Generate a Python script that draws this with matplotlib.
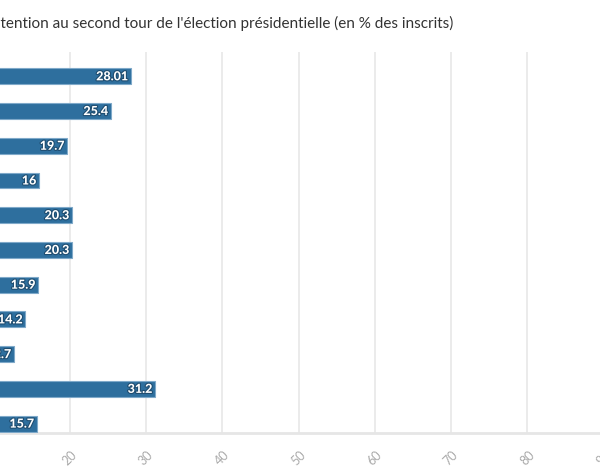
import matplotlib
matplotlib.use("Agg")
import matplotlib.pyplot as plt
import matplotlib.patheffects as pe

# second-round abstention, most recent election at the top
years = ["2022", "2017", "2012", "2007", "2002", "1995", "1988", "1981", "1974", "1969", "1965"]
abstention = [28.01, 25.4, 19.7, 16, 20.3, 20.3, 15.9, 14.2, 12.7, 31.2, 15.7]
xticks = [0, 10, 20, 30, 40, 50, 60, 70, 80, 90, 100]
title = "Abstention au second tour de l'élection présidentielle (en % des inscrits)"

plt.rcParams["font.family"] = ["Lato", "DejaVu Sans"]

W, H = 600, 474
fig = plt.figure(figsize=(W / 100, H / 100), dpi=100)
# the view is cropped: x=0 sits left of the canvas
x0_px, px_per_unit = -83.0, 7.63
top_px, bot_px = 52.0, 433.0
ax = fig.add_axes([x0_px / W, 1 - bot_px / H, 100 * px_per_unit / W, (bot_px - top_px) / H])

pos = list(range(len(years)))
bars = ax.barh(pos, abstention, height=0.46, color="#2e6f9e",
               edgecolor="#7fa9c9", linewidth=0.8, zorder=3)
ax.set_xlim(0, 100)
ax.set_ylim(10.27, -0.70)
ax.set_yticks(pos)
ax.set_yticklabels(years)
ax.set_xticks(xticks)
ax.set_xticklabels([str(t) for t in xticks], rotation=45, color="#aaaaaa", fontsize=9)
ax.tick_params(axis="x", length=0, pad=11)
ax.tick_params(axis="y", length=0)
ax.grid(axis="x", color="#e8e8e8", linewidth=1.2, zorder=0)
for s in ["top", "right", "left"]:
    ax.spines[s].set_visible(False)
ax.spines["bottom"].set_color("#e6e6e6")
ax.spines["bottom"].set_linewidth(2)

for b, v in zip(bars, abstention):
    ax.text(b.get_width() - 0.35, b.get_y() + b.get_height() / 2, f"{v:g}",
            ha="right", va="center", color="white", fontsize=9, fontweight="black", zorder=4,
            path_effects=[pe.withStroke(linewidth=1.6, foreground="#1f4d70")])

fig.text(453 / W, 1 - 23 / H, title, ha="right", va="center", fontsize=11.0, color="#333333")

fig.savefig("out.png", dpi=100)
